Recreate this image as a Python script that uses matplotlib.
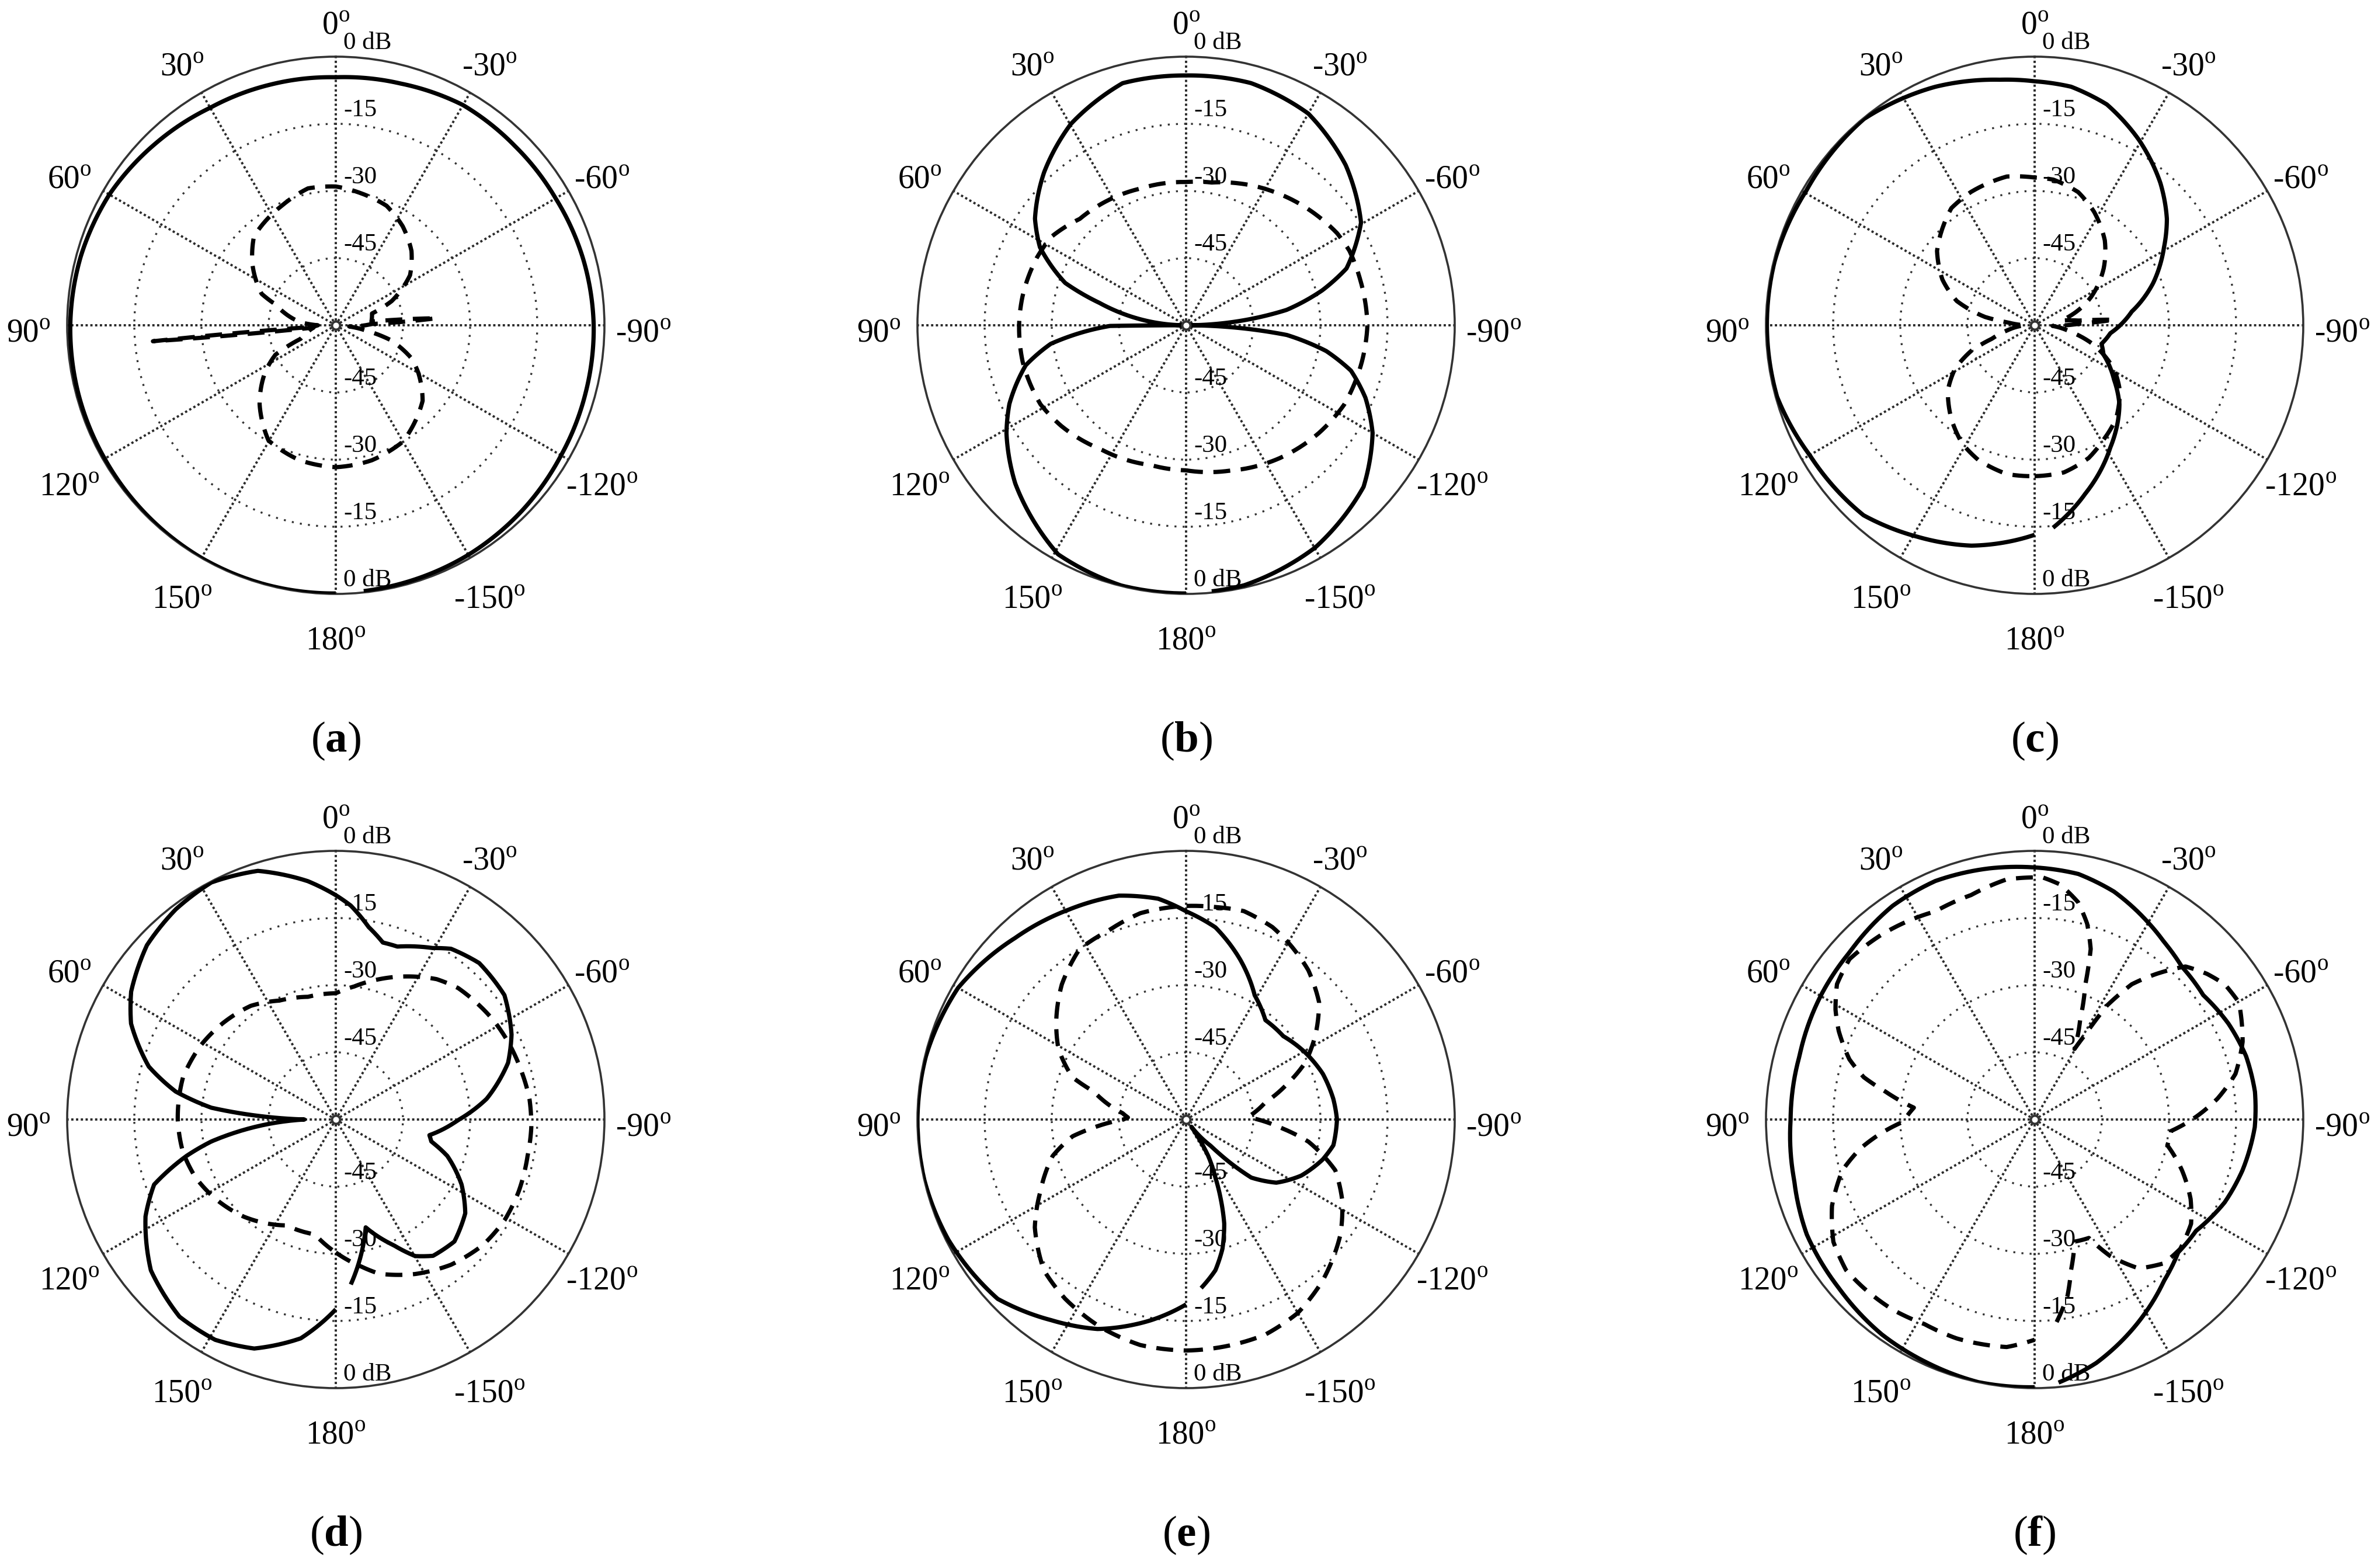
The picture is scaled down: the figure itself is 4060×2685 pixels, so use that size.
import numpy as np
import matplotlib
matplotlib.use('Agg')
import matplotlib.pyplot as plt

plt.rcParams['font.family'] = 'Liberation Serif'
plt.rcParams['mathtext.fontset'] = 'custom'
plt.rcParams['mathtext.rm'] = 'Liberation Serif'
plt.rcParams['mathtext.it'] = 'Liberation Serif:italic'
plt.rcParams['mathtext.bf'] = 'Liberation Serif:bold'

# radiation patterns, angle in degrees (0 at top, positive to the left), gain in dB
A_SOLID_ANG = [-174, -165, -150, -135, -120, -105, -90, -75, -60, -45, -30, -15, 0,
               15, 30, 45, 60, 75, 90, 105, 120, 135, 150, 165, 180]
A_SOLID_DB = [-0.3, -0.5, -0.8, -1.3, -1.9, -2.2, -2.4, -2.8, -3.3, -3.4, -3.2, -4.1, -4.6,
              -4.3, -3.9, -2.8, -1.6, -1.0, -0.7, -0.5, -0.4, -0.2, 0.0, 0.0, -0.1]
A_DASH_ANG = [-180, -165, -150, -131, -120, -113.5, -105, -100, -95, -88, -86, -84, -72,
              -66.6, -56, -45.5, -34, -23, -11, 0, 11.5, 23.6, 42.6, 54, 67, 71, 85, 90,
              94, 95, 96, 106, 111, 116, 123.7, 136, 149.7, 165, 180]
A_DASH_DB = [-28.3, -28.8, -30, -34.3, -38.7, -41.6, -47.4, -53, -57, -52, -37.5, -52, -51.5,
             -46.4, -40, -36.3, -33.3, -31, -30, -29, -28.8, -30.6, -33, -37, -42, -45.8, -52, -56,
             -55, -19, -55, -53, -51.6, -45, -41, -35.5, -30.2, -28.8, -28.3]

B_SOLID_ANG = [-174.5, -167.4, -149.8, -132.3, -120, -112, -105.4, -100.4, -95.5, -90,
               -81.3, -75.6, -70.5, -59.6, -44.9, -30, -15, 0, 14.7, 29.8, 42.9, 54.8, 61.9,
               70.7, 75.5, 90, 90.5, 97.8, 104, 114, 121, 132.8, 150.8, 166, 180]
B_SOLID_DB = [-0.3, -0.5, -2.6, -6.4, -11.9, -16.8, -21.8, -28.2, -37.4, -60,
              -37.3, -28.6, -22, -14.7, -9.5, -5.4, -4.0, -4.2, -4.1, -8.2, -13.4, -18.7, -23,
              -31.4, -40, -60, -43, -29.5, -23.1, -16.8, -13.2, -8, -1.4, -0.1, -0.1]
B_DASH_ANG = [-180, -163.3, -144.8, -129, -116.7, -101.7, -90, -75.3, -65.5, -58.6, -50.8,
              -35.5, -19.6, -10.2, 0, 18.5, 45, 56.7, 65.8, 80, 90, 102.6, 118.5, 129, 145.6,
              166, 180]
B_DASH_DB = [-27.6, -26.1, -23.7, -21.8, -20.5, -19.9, -19.5, -19.8, -19.9, -20.5, -21.7,
             -24, -26.3, -27.6, -28, -27.8, -26.4, -24, -23.4, -22.9, -22.7, -22.6, -23, -24.2,
             -26.4, -27.8, -27.6]

C_SOLID_ANG = [-174.8, -163.3, -148.2, -133, -124.4, -113, -105.5, -96, -82, -70.4, -59,
               -51.2, -41.5, -29.4, -18.1, -8.7, 0, 8.1, 22.6, 39.6, 59.4, 76.3, 90, 105.5,
               120, 138, 151, 164, 172.7, 180]
C_SOLID_DB = [-14.6, -20.7, -27.9, -34.1, -38.5, -43.3, -44.5, -43, -38.1, -31.9, -26.3,
              -22.1, -17.6, -12.5, -8.1, -6.1, -5.5, -4.6, -2.3, -0.2, -0.8, -0.2, -0.2, -0.3,
              -2.0, -2.9, -6, -8.8, -11.2, -13.2]
C_DASH_ANG = [-180, -168.7, -157.8, -149.2, -139, -127.5, -118.8, -107.8, -100, -92, -88,
              -86, -84, -80, -74.6, -63.6, -50.5, -39.6, -27.7, -18.1, -7.3, 0, 10.6, 25.5,
              35.4, 52.7, 63.6, 72.7, 80.5, 84, 90, 100, 107.4, 112, 118.7, 126.8, 138.4,
              148.6, 157.3, 169.4, 180]
C_DASH_DB = [-26.3, -26.5, -28, -30.1, -32.3, -36, -39.8, -46.4, -52, -56, -50,
             -42.2, -50, -54, -51.5, -46, -40, -35.4, -31.4, -28.7, -27.2, -27, -26.2, -27,
             -27.9, -32.6, -37, -41.8, -48.8, -54, -58, -54, -50.1, -44.7, -39.7, -35.8, -32,
             -29, -27.4, -26.2, -26.3]

D_SOLID_ANG = [-174.8, -164.5, -155.3, -149.8, -144.5, -135.8, -125.9, -117.3, -108.1, -103,
               -99.5, -90.3, -82.2, -71.8, -64.2, -53.6, -42.5, -34, -29.5, -19.6, -14.9,
               -9.7, -4, 0, 6.7, 17.4, 27.7, 37.3, 47.3, 58, 64.9, 74.2, 80.1, 84.6, 90, 100,
               103.7, 109.7, 117, 129.2, 141.6, 151.3, 160.4, 170.9, 180]
D_SOLID_DB = [-23, -35, -29.1, -24.7, -22.6, -22, -24.3, -28.4, -33.8, -38.1,
              -38.8, -32.7, -26, -19.5, -16.4, -13.2, -12.6, -14, -16, -19, -19.1,
              -16.4, -12.1, -9.9, -6.4, -1.8, -0.2, -1.0, -2.6, -6.1, -9.5, -16.6, -23.7, -32.1,
              -53, -31.8, -25.7, -16.9, -12.3, -6.7, -3.8, -3.9, -5.7, -10.5, -17.6]
D_DASH_ANG = [-180, -170, -164.2, -152.8, -141.6, -130.5, -120.9, -111.5, -100.8, -92.3,
              -83.9, -76.2, -65.7, -57.8, -50, -42.9, -35.7, -26.8, -17.2, -7.9, 0, 12.8,
              25.4, 36.8, 49.9, 61.2, 74.6, 90, 102.1, 112.4, 123.3, 136.5, 155, 169.8, 180]
D_DASH_DB = [-30.3, -26.6, -24.2, -21.2, -18.6, -16.8, -16.1, -16.1, -16.4, -16.3,
             -16.5, -17.1, -17.8, -18.4, -19.2, -19.9, -21.4, -24.2, -27.2, -30, -31.8, -31.9,
             -30.6, -28.3, -26.8, -25.6, -24.6, -24.7, -25.1, -26.1, -27.8, -30.1, -33.9, -33.9,
             -30.3]

E_SOLID_ANG = [-174.9, -169, -164.3, -159.9, -156.4, -153.2, -148.7, -144, -137, -134.5,
               -131.7, -125, -116, -106.3, -99.9, -90, -82, -71.5, -60.5, -49.4, -38.6, -28.9,
               -18.7, -8.7, 0, 7.2, 16.7, 29.2, 43.3, 60, 76.3, 90, 103, 116.8, 133.6, 146.1,
               157.1, 170.1, 180]
E_SOLID_DB = [-22.2, -25.7, -30, -35.2, -40.7, -45.5, -50.5, -58, -52, -46.3,
              -40.5, -35.4, -31.4, -28.2, -26.6, -26.3, -26.8, -27.8, -29.5, -31.4, -31.6, -28.3,
              -22.3, -16.6, -13.5, -10.3, -7.8, -6.3, -4.3, -1.2, -0.2, 0, 0, -0.5, -1.9, -6,
              -9.2, -14.5, -18.7]
E_DASH_ANG = [-180, -169, -159.8, -150, -139.8, -126.7, -117, -108.8, -100.3, -94.8, -88,
              -85.9, -77.8, -70.8, -64.6, -56.7, -48.6, -39.3, -30.9, -24.2, -15.5, -7.8, 0,
              12.5, 22.4, 32, 42.6, 52.6, 61, 69.6, 73.2, 84.2, 88, 90, 94.9, 98.4, 105.3,
              116.3, 125.5, 136.7, 146, 157.8, 168.5, 180]
E_DASH_DB = [-8.4, -8.6, -8.8, -10.1, -12.8, -17, -20.9, -24.8, -32.2, -39, -46,
             -45.4, -41.9, -36.2, -30.6, -25.4, -20.4, -16.9, -14.6, -12.9, -11.7, -12.1, -12.3,
             -12.8, -14.4, -15.1, -19, -23.5, -27.4, -32.9, -38.5, -45.7, -47, -46, -39.4, -34.4,
             -29.1, -23.7, -18.5, -13.7, -11.7, -9.8, -8.6, -8.4]

F_SOLID_ANG = [-174.8, -165.8, -151.3, -141.3, -132.8, -124.6, -113.6, -103.7, -92, -82.8,
               -73.3, -63.7, -53.6, -43.9, -36, -29.2, -19.2, -10.1, 0, 10.3, 22.6, 33.6,
               47.9, 59.8, 74.9, 90, 104.3, 116.8, 130.7, 144.6, 156.4, 167.9, 180]
F_SOLID_DB = [-1, -3.9, -9.8, -13.8, -16.3, -16.2, -13.7, -12.2, -10.8, -10.4,
              -10.7, -11.7, -13.2, -12.6, -10.9, -9, -6.1, -4.3, -3.7, -3, -2.3, -2.7,
              -4.3, -4.8, -5.6, -5.5, -4.6, -3, -2.3, -1.1, -0.6, 0, -0.2]
F_DASH_ANG = [-173.8, -169.4, -166.4, -161.9, -155.4, -151, -145, -138, -131.6, -123.7,
              -117, -109, -101, -94.8, -89, -83.5, -77.2, -69.5, -60.2, -54.6, -49.8, -44.6,
              -40, -35.7, -32.4, -30.8, -29.5, -24.6, -20.6, -18.2, -15, -11.3, -6.2, -1.9,
              6.6, 15.8, 25.5, 32, 39.6, 49.1, 55.6, 61.1, 65.7, 72, 76.1, 79.4, 84.4, 91,
              95, 99.5, 104.8, 113.1, 121.3, 128.6, 134.6, 143.2, 151.7, 160.4, 173, 180]
F_DASH_DB = [-14.5, -20, -25.4, -31.3, -30.9, -25.1, -19.4, -16.8, -16.5, -18,
             -20.9, -25.2, -29.8, -29.4, -23.9, -18.9, -14, -10.4, -7.4, -7.9, -9.6, -12,
             -17.5, -22.8, -29.9, -37.9, -41.9, -35.6, -27.8, -19.9, -14.7, -10.5, -7.2, -5.9,
             -6, -7.9, -8.5, -7.5, -6.4, -5.3, -6.5, -9.2, -12, -16.5, -20.7, -26.1, -32.9, -30.6,
             -25.7, -20.5, -15.6, -10.8, -7.4, -6.1, -6.4, -7, -8.1, -8.1, -8.8, -10.8]

PANELS = [
    ('a', A_SOLID_ANG, A_SOLID_DB, A_DASH_ANG, A_DASH_DB),
    ('b', B_SOLID_ANG, B_SOLID_DB, B_DASH_ANG, B_DASH_DB),
    ('c', C_SOLID_ANG, C_SOLID_DB, C_DASH_ANG, C_DASH_DB),
    ('d', D_SOLID_ANG, D_SOLID_DB, D_DASH_ANG, D_DASH_DB),
    ('e', E_SOLID_ANG, E_SOLID_DB, E_DASH_ANG, E_DASH_DB),
    ('f', F_SOLID_ANG, F_SOLID_DB, F_DASH_ANG, F_DASH_DB),
]

ANGLE_TICKS = [0, 30, 60, 90, 120, 150, 180, -150, -120, -90, -60, -30]
RING_TICKS = [-45, -30, -15]

W, H = 4060, 2685
fig = plt.figure(figsize=(W / 200, H / 200), dpi=200)

centers_x = [575, 2031, 3484]
centers_y = [557, 1917]
R = 460
FS = 20          # angle label size
FS_SUP = 14      # size of the small "o" after the angle


def polar_line(ax, ang, db, **kw):
    ln, = ax.plot(np.deg2rad(ang), db, **kw)
    # let the polar transform follow arcs between the measured points
    ln.get_path()._interpolation_steps = 40
    return ln


def angle_label(ax, a):
    t = np.deg2rad(a)
    k = 1.145
    x = 0.5 - 0.5 * k * np.sin(t)
    y = 0.5 + 0.5 * k * np.cos(t) - 0.010
    s = str(a)
    # Times-like metrics: digits 0.5 em, hyphen 0.333 em, "o" 0.5 em
    w_num = FS * (0.5 * sum(c.isdigit() for c in s) + 0.333 * s.count('-'))
    w_tot = w_num + 0.5 * FS_SUP
    x0 = -w_tot / 2
    base = -0.33 * FS
    ax.annotate(s, (x, y), xycoords='axes fraction', xytext=(x0, base),
                textcoords='offset points', ha='left', va='baseline', fontsize=FS,
                annotation_clip=False)
    ax.annotate('o', (x, y), xycoords='axes fraction', xytext=(x0 + w_num, base + 0.37 * FS),
                textcoords='offset points', ha='left', va='baseline', fontsize=FS_SUP,
                annotation_clip=False)


for i, (tag, s_ang, s_db, d_ang, d_db) in enumerate(PANELS):
    cx = centers_x[i % 3]
    cy = centers_y[i // 3]
    ax = fig.add_axes([(cx - R) / W, (H - cy - R) / H, 2 * R / W, 2 * R / H],
                      projection='polar')
    ax.set_theta_zero_location('N')
    ax.set_theta_direction(1)
    ax.set_ylim(-60, 0)
    ax.set_xticks(np.deg2rad(np.arange(0, 360, 30)))
    ax.set_xticklabels([])
    ax.set_yticks(RING_TICKS)
    ax.set_yticklabels([])
    ax.xaxis.grid(True, color='#2a2a2a', linestyle=(0, (1.0, 1.1)), linewidth=1.4)
    ax.yaxis.grid(True, color='#333333', linestyle=(0, (1.0, 3.2)), linewidth=1.2)
    ax.spines['polar'].set_color('#333333')
    ax.spines['polar'].set_linewidth(1.3)

    polar_line(ax, d_ang, d_db, color='black', lw=2.6,
               linestyle=(0, (4.0, 2.5)), zorder=3)
    polar_line(ax, s_ang, s_db, color='black', lw=2.6,
               solid_joinstyle='round', solid_capstyle='butt', zorder=4)
    ax.plot(0, -60, 'o', ms=5, mfc='white', mec='#333333', mew=1.4, zorder=6,
            clip_on=False)

    for a in ANGLE_TICKS:
        angle_label(ax, a)

    # radial labels along the vertical axis
    for db in [0] + RING_TICKS[::-1]:
        frac = (db + 60) / 60 * 0.5
        txt = '0 dB' if db == 0 else str(db)
        for sgn in (1, -1):
            ax.text(0.5 + 0.014, 0.5 + sgn * frac + 0.004, txt, transform=ax.transAxes,
                    ha='left', va='bottom', fontsize=15.5, clip_on=False, zorder=7)

    fig.text(cx / W, 1 - (cy + 712) / H, f'(${{\\bf {tag}}}$)', ha='center', va='center',
             fontsize=27)

fig.savefig('out.png', dpi=200, facecolor='white')
